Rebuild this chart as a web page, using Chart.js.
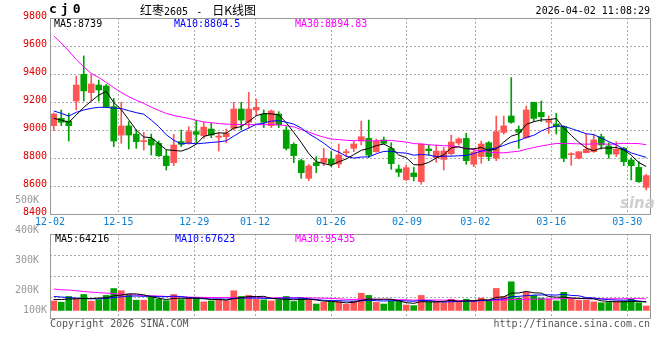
<!DOCTYPE html>
<html>
<head>
<meta charset="utf-8">
<script src="https://cdn.jsdelivr.net/npm/chart.js@4.4.1/dist/chart.umd.min.js"></script>
<style>
  body { margin: 0; background: #fff; }
  #wrap { position: relative; width: 660px; height: 360px; overflow: hidden; background: #fff;
          font-family: "DejaVu Sans Mono", monospace; font-size: 10px; }
  #wrap canvas { position: absolute; left: 0; }
  .t { position: absolute; white-space: nowrap; line-height: 12px; }
  .cjk { font-family: "Noto Sans CJK SC"; font-size: 12px; }
</style>
</head>
<body>
<div id="wrap">
  <canvas id="priceChart" width="660" height="232" style="top:0"></canvas>
  <canvas id="volChart" width="660" height="170" style="top:190px"></canvas>

  <div class="t" style="left:49px;top:3px;font-weight:bold;font-size:13px;letter-spacing:4px">cj0</div>
  <div class="t" style="left:140px;top:4px"><span class="cjk">红枣</span>2605<span style="letter-spacing:2px"> - </span><span class="cjk">日K线图</span></div>
  <div class="t" style="right:10px;top:5px">2026-04-02 11:08:29</div>

  <div class="t" id="pMa5"  style="left:54px;top:18px;color:#000"></div>
  <div class="t" id="pMa10" style="left:174px;top:18px;color:#0000ff"></div>
  <div class="t" id="pMa30" style="left:295px;top:18px;color:#ff00ff"></div>

  <div class="t" id="vMa5"  style="left:55px;top:233px;color:#000"></div>
  <div class="t" id="vMa10" style="left:175px;top:233px;color:#0000ff"></div>
  <div class="t" id="vMa30" style="left:295px;top:233px;color:#ff00ff"></div>

  <div class="t" style="left:620px;top:197px;font-family:'DejaVu Sans';font-style:italic;font-weight:bold;font-size:15px;color:#cfcfcf">sina</div>

  <div class="t" style="left:50px;top:318px;color:#555">Copyright 2026 SINA.COM</div>
  <div class="t" style="right:10px;top:318px;color:#555">http://finance.sina.com.cn</div>
</div>

<script>
// trading days shown, 12-02 .. 04-02
const DATES = [
  '12-02','12-03','12-04','12-05','12-08','12-09','12-10','12-11','12-12','12-15',
  '12-16','12-17','12-18','12-19','12-22','12-23','12-24','12-25','12-26','12-29',
  '12-30','12-31','01-05','01-06','01-07','01-08','01-09','01-12','01-13','01-14',
  '01-15','01-16','01-19','01-20','01-21','01-22','01-23','01-26','01-27','01-28',
  '01-29','01-30','02-02','02-03','02-04','02-05','02-06','02-09','02-10','02-11',
  '02-12','02-13','02-24','02-25','02-26','02-27','03-02','03-03','03-04','03-05',
  '03-06','03-09','03-10','03-11','03-12','03-13','03-16','03-17','03-18','03-19',
  '03-20','03-23','03-24','03-25','03-26','03-27','03-30','03-31','04-01','04-02'
];
const TICK_DATES = ['12-02','12-15','12-29','01-12','01-26','02-09','03-02','03-16','03-30'];

const OPEN = [
  9031,9083,9064,9207,9398,9267,9321,9314,9167,8964,
  9029,8971,8917,8936,8905,8814,8767,8917,8909,8988,
  8959,9007,8948,8952,9012,9150,9055,9143,9112,9031,
  9114,9000,8898,8781,8655,8767,8767,8793,8757,8838,
  8869,8921,8940,8845,8929,8869,8721,8645,8693,8631,
  8864,8802,8790,8831,8907,8940,8755,8810,8909,8798,
  8983,9100,9005,8945,9198,9126,9055,9043,9024,8824,
  8798,8838,8845,8952,8886,8828,8869,8786,8733,8590
];
const HIGH = [
  9121,9143,9119,9386,9529,9398,9357,9326,9226,9198,
  9060,9000,8983,8971,8921,8857,8969,9000,9024,9071,
  9055,9048,8983,9007,9198,9198,9269,9221,9143,9143,
  9131,9024,8909,8793,8755,8810,8869,8845,8900,8862,
  8921,9064,9071,8936,8950,8909,8750,8750,8733,8900,
  8893,8893,8876,8964,8945,8976,8869,8921,8917,9100,
  9100,9374,9029,9171,9198,9207,9100,9119,9029,8838,
  8845,8971,8969,8971,8909,8917,8876,8802,8774,8683
];
const LOW = [
  8995,9031,8921,9143,9207,9207,9207,9160,8881,8905,
  8864,8869,8857,8821,8810,8714,8745,8881,8898,8905,
  8940,8945,8850,8909,9000,9000,9012,9107,9017,9017,
  9017,8857,8767,8655,8638,8695,8745,8738,8731,8810,
  8845,8893,8802,8840,8900,8719,8667,8638,8636,8612,
  8821,8769,8714,8821,8893,8755,8738,8762,8781,8781,
  8971,9048,8869,8940,9060,9060,8976,8971,8774,8748,
  8793,8838,8840,8864,8798,8810,8745,8643,8626,8571
];
const CLOSE = [
  9114,9055,9031,9321,9279,9329,9286,9167,8921,9029,
  8964,8917,8921,8893,8817,8745,8893,8898,8988,8969,
  9021,8964,8957,8976,9150,9071,9150,9162,9055,9136,
  9036,8869,8817,8695,8743,8745,8798,8757,8821,8845,
  8900,8952,8821,8921,8905,8760,8698,8731,8667,8898,
  8852,8850,8850,8914,8936,8781,8843,8900,8810,8988,
  9029,9055,8983,9143,9083,9095,9067,9024,8798,8826,
  8845,8862,8929,8893,8828,8862,8774,8745,8631,8674
];

const MA5 = [
  9083,9071,9055,9107,9162,9206,9249,9276,9196,9146,
  9073,9000,8950,8945,8902,8859,8854,8849,8868,8899,
  8954,8968,8980,8977,9014,9024,9061,9102,9118,9115,
  9108,9052,8983,8911,8832,8774,8760,8748,8773,8793,
  8824,8855,8868,8888,8900,8872,8821,8803,8752,8751,
  8769,8800,8823,8873,8880,8866,8865,8875,8854,8864,
  8914,8956,8973,9040,9059,9072,9074,9082,9013,8962,
  8912,8871,8852,8871,8871,8875,8857,8820,8768,8739
];
const MA10 = [
  9136,9119,9100,9126,9143,9155,9162,9162,9156,9153,
  9138,9124,9113,9071,9024,8966,8927,8900,8907,8901,
  8906,8911,8915,8923,8956,8989,9014,9041,9048,9064,
  9066,9056,9042,9014,8973,8941,8906,8865,8842,8813,
  8799,8807,8808,8830,8847,8848,8838,8835,8820,8825,
  8821,8810,8813,8813,8816,8818,8832,8849,8863,8872,
  8890,8911,8924,8947,8962,8993,9015,9028,9027,9010,
  8992,8973,8967,8942,8917,8893,8864,8836,8820,8804.5
];
const MA30 = [
  9672,9621,9564,9503,9451,9404,9375,9340,9303,9268,
  9238,9213,9190,9163,9140,9118,9104,9093,9083,9068,
  9058,9052,9046,9042,9040,9039,9038,9038,9038,9039,
  9037,9031,9023,9003,8985,8965,8949,8935,8932,8926,
  8924,8925,8922,8922,8925,8926,8919,8914,8903,8901,
  8895,8891,8888,8886,8879,8869,8859,8850,8842,8837,
  8837,8843,8848,8863,8875,8886,8895,8904,8903,8903,
  8901,8898,8901,8901,8898,8901,8904,8904,8903,8894.83
];

const VOLUME = [
  83000,72000,122000,102000,139000,81000,95000,131000,191000,172000,
  137000,89000,89000,114000,99000,85000,139000,95000,110000,110000,
  75000,83000,96000,85000,172000,122000,131000,96000,92000,83000,
  92000,122000,78000,106000,92000,56000,71000,72000,77000,54000,
  81000,150000,131000,70000,56000,83000,81000,48000,42000,131000,
  75000,75000,67000,98000,81000,98000,81000,108000,89000,192000,
  122000,250000,108000,158000,131000,108000,98000,83000,158000,98000,
  89000,89000,75000,67000,70000,81000,81000,98000,67000,39000
];
const VOL_MA5 = [
  95000,95000,100000,102000,104000,103000,108000,110000,127000,134000,
  145000,144000,136000,120000,106000,95000,105000,106000,106000,108000,
  106000,95000,95000,90000,102000,112000,121000,121000,123000,105000,
  99000,97000,93000,96000,98000,91000,81000,79000,74000,66000,
  71000,87000,99000,97000,98000,98000,84000,68000,62000,77000,
  75000,74000,78000,89000,79000,84000,85000,93000,91000,114000,
  118000,152000,152000,166000,154000,151000,121000,116000,116000,109000,
  105000,103000,102000,84000,78000,76000,75000,79000,79000,73000
];
const VOL_MA10 = [
  122000,117000,112000,108000,104000,102000,102000,105000,112000,119000,
  124000,126000,123000,124000,120000,120000,125000,121000,113000,107000,
  101000,100000,101000,98000,105000,109000,108000,108000,106000,104000,
  105000,109000,107000,109000,101000,95000,89000,86000,85000,82000,
  81000,84000,89000,85000,82000,85000,86000,83000,80000,87000,
  87000,79000,73000,76000,78000,80000,80000,86000,90000,96000,
  101000,119000,123000,129000,134000,135000,136000,134000,141000,131000,
  128000,112000,109000,100000,94000,91000,89000,91000,82000,76000
];
const VOL_MA30 = [
  187000,180000,178000,172000,165000,160000,155000,152000,147000,142000,
  138000,135000,131000,128000,126000,122000,120000,118000,116000,115000,
  114000,113000,112000,112000,111000,111000,111000,110000,110000,110000,
  110000,112000,110000,110000,109000,108000,107000,105000,101000,97000,
  96000,98000,99000,98000,96000,96000,94000,93000,90000,91000,
  91000,91000,90000,90000,87000,86000,85000,85000,85000,89000,
  90000,94000,95000,97000,98000,100000,101000,101000,104000,105000,
  105000,103000,101000,101000,102000,102000,102000,103000,104000,101000
];
const VOL_TICKS = [200000, 300000, 400000, 500000];
const VOL_LOW_TICK = [100000];

// latest values printed in the legends
const LAST_PRICE_MA = ['8739', '8804.5', '8894.83'];
const LAST_VOL_MA   = ['64216', '67623', '95435'];

const UP_COLOR   = '#ff5555';
const DOWN_COLOR = '#00a000';
const GRID_COLOR = '#aaaaaa';

Chart.defaults.font.family = '"DejaVu Sans Mono", monospace';
Chart.defaults.font.size = 10;

const candleColors = CLOSE.map((c, i) => (c >= OPEN[i] ? UP_COLOR : DOWN_COLOR));

// draws the gray frame round each panel
const panelBorder = {
  id: 'panelBorder',
  afterDraw(chart) {
    const { ctx, chartArea: a } = chart;
    ctx.save();
    ctx.strokeStyle = '#999';
    ctx.lineWidth = 1;
    ctx.strokeRect(Math.round(a.left) + 0.5, Math.round(a.top) + 0.5,
                   Math.round(a.width), Math.round(a.height));
    ctx.restore();
  }
};

// vertical date grid, on its own linear axis so it can sit where sina puts it
function dateGridAxis(showLabels) {
  return {
    type: 'linear',
    position: 'bottom',
    offset: false,
    min: 0,
    max: DATES.length - 1,
    afterBuildTicks: axis => {
      axis.ticks = TICK_DATES.map(d => ({ value: DATES.indexOf(d) }));
    },
    grid: { color: GRID_COLOR, drawTicks: false, offset: false },
    border: { display: false, dash: [2, 2] },
    ticks: {
      display: showLabels,
      autoSkip: false,
      maxRotation: 0,
      padding: 2,
      color: '#0a7fd4',
      callback: v => DATES[v]
    },
    afterFit: axis => { axis.height = showLabels ? 18 : 0; }
  };
}

function volLabel(v) {
  return v / 1000 + 'K';
}

function maLine(label, data, color, yAxisID) {
  return {
    type: 'line', label, data, xAxisID: 'x', yAxisID,
    borderColor: color, borderWidth: 1, pointRadius: 0, tension: 0, fill: false, order: 0
  };
}

document.addEventListener('DOMContentLoaded', () => {
  document.getElementById('pMa5').textContent  = `MA5:${LAST_PRICE_MA[0]}`;
  document.getElementById('pMa10').textContent = `MA10:${LAST_PRICE_MA[1]}`;
  document.getElementById('pMa30').textContent = `MA30:${LAST_PRICE_MA[2]}`;
  document.getElementById('vMa5').textContent  = `MA5:${LAST_VOL_MA[0]}`;
  document.getElementById('vMa10').textContent = `MA10:${LAST_VOL_MA[1]}`;
  document.getElementById('vMa30').textContent = `MA30:${LAST_VOL_MA[2]}`;

  renderPriceChart();
  renderVolumeChart();
});

function renderPriceChart() {
  new Chart(document.getElementById('priceChart'), {
    type: 'bar',
    data: {
      labels: DATES,
      datasets: [
        maLine('MA5',  MA5,  '#000000', 'y'),
        maLine('MA10', MA10, '#0000ff', 'y'),
        maLine('MA30', MA30, '#ff00ff', 'y'),
        {
          label: 'body',
          data: OPEN.map((o, i) => [o, CLOSE[i]]),
          xAxisID: 'x', yAxisID: 'y',
          backgroundColor: candleColors,
          barThickness: 6, minBarLength: 1, grouped: false, order: 1
        },
        {
          label: 'wick',
          data: LOW.map((l, i) => [l, HIGH[i]]),
          xAxisID: 'x', yAxisID: 'y',
          backgroundColor: candleColors,
          barThickness: 1, grouped: false, order: 2
        }
      ]
    },
    options: {
      responsive: false,
      animation: false,
      events: [],
      layout: { padding: { top: 18, right: 10, left: 0, bottom: 0 } },
      plugins: { legend: { display: false }, tooltip: { enabled: false } },
      scales: {
        x: { type: 'category', offset: true, display: false },
        xg: dateGridAxis(true),
        y: {
          position: 'left',
          min: 8400,
          max: 9800,
          ticks: { stepSize: 200, color: '#dd0000', padding: 3, labelOffset: -2, callback: v => String(v) },
          grid: { color: GRID_COLOR, drawTicks: false },
          border: { display: false, dash: [2, 2] },
          afterFit: axis => { axis.width = 50; }
        }
      }
    },
    plugins: [panelBorder]
  });
}

function renderVolumeChart() {
  new Chart(document.getElementById('volChart'), {
    type: 'bar',
    data: {
      labels: DATES,
      datasets: [
        maLine('MA5',  VOL_MA5,  '#000000', 'yv'),
        maLine('MA10', VOL_MA10, '#0000ff', 'yv'),
        maLine('MA30', VOL_MA30, '#ff00ff', 'yv'),
        {
          label: 'volume',
          data: VOLUME,
          xAxisID: 'x', yAxisID: 'yv',
          backgroundColor: candleColors,
          barThickness: 6, order: 1
        }
      ]
    },
    options: {
      responsive: false,
      animation: false,
      events: [],
      layout: { padding: { top: 44, right: 10, left: 0, bottom: 42 } },
      plugins: { legend: { display: false }, tooltip: { enabled: false } },
      scales: {
        x: { type: 'category', offset: true, display: false },
        xg: dateGridAxis(false),
        yv: { display: false, min: -66000, max: 667000 },
        // quarter lines of the panel
        yg: {
          position: 'right',
          min: 0, max: 4,
          ticks: { stepSize: 1, display: false },
          grid: { color: GRID_COLOR, drawTicks: false },
          border: { display: false, dash: [2, 2] },
          afterFit: axis => { axis.width = 0; }
        },
        // sina prints its volume labels on a looser scale than the bars
        yl: {
          position: 'left',
          weight: 1,
          min: 108000, max: 389000,
          afterBuildTicks: axis => { axis.ticks = VOL_TICKS.map(v => ({ value: v })); },
          grid: { display: false },
          border: { display: false },
          ticks: { color: '#999', padding: 3, autoSkip: false, callback: volLabel },
          afterFit: axis => { axis.width = 50; }
        },
        // the bottom label sits higher than that scale would put it
        yl0: {
          position: 'left',
          weight: 0,
          min: 0, max: 1150000,
          afterBuildTicks: axis => { axis.ticks = VOL_LOW_TICK.map(v => ({ value: v })); },
          grid: { display: false },
          border: { display: false },
          ticks: { color: '#999', mirror: true, padding: -27, autoSkip: false, callback: volLabel },
          afterFit: axis => { axis.width = 0; }
        }
      }
    },
    plugins: [panelBorder]
  });
}
</script>
</body>
</html>
